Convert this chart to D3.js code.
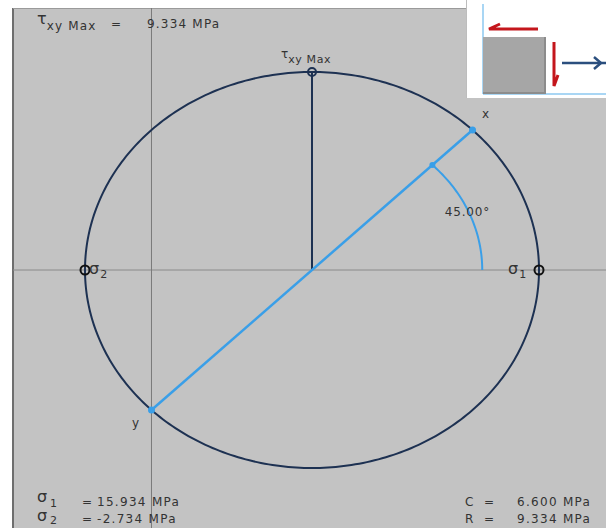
<!DOCTYPE html>
<html>
<head>
<meta charset="utf-8">
<script src="https://cdn.jsdelivr.net/npm/d3@7"></script>
<style>
  html, body { margin: 0; padding: 0; background: #ffffff; }
  svg { display: block; }
  text { font-family: "DejaVu Sans", Verdana, sans-serif; fill: #333333; }
</style>
</head>
<body>
<svg id="chart" width="606" height="531"></svg>
<script>
// Plane stress state (MPa)
const normalStress = [13.2, 0];        // σx, σy
const shearStress = [6.6, -6.6];       // τ on x face, τ on y face
const pointLabels = ["x", "y"];

// Mohr's circle results (MPa)
const principalNames = ["1", "2"];
const principalValues = [15.934, -2.734];
const centerValue = 6.6;
const radiusValue = 9.334;
const tauMaxValue = 9.334;
const rotationDeg = 45;
const arcRadius = 7.0;

const W = 606, H = 531;
const svg = d3.select("#chart");

// Stress axes: σ horizontal, τ vertical
const x = d3.scaleLinear()
  .domain([principalValues[1], principalValues[0]])
  .range([85, 539]);
const y = d3.scaleLinear()
  .domain([tauMaxValue, -tauMaxValue])
  .range([72, 468]);

const panel = { left: 13, top: 8, right: 606, bottom: 528 };

// Grey plotting panel
svg.append("rect")
  .attr("x", panel.left).attr("y", panel.top)
  .attr("width", panel.right - panel.left).attr("height", panel.bottom - panel.top)
  .attr("fill", "#c3c3c3");
svg.append("line")
  .attr("x1", panel.left).attr("x2", panel.left)
  .attr("y1", panel.top).attr("y2", panel.bottom)
  .attr("stroke", "#6e6e6e").attr("stroke-width", 2);
svg.append("line")
  .attr("x1", panel.left).attr("x2", panel.right)
  .attr("y1", panel.top + 0.5).attr("y2", panel.top + 0.5)
  .attr("stroke", "#9a9a9a").attr("stroke-width", 1);

// σ axis (τ = 0) and τ axis (σ = 0)
svg.append("line")
  .attr("x1", panel.left).attr("x2", panel.right)
  .attr("y1", y(0)).attr("y2", y(0))
  .attr("stroke", "#8a8a8a").attr("stroke-width", 1);
svg.append("line")
  .attr("x1", x(0)).attr("x2", x(0))
  .attr("y1", panel.top).attr("y2", panel.bottom)
  .attr("stroke", "#7a7a7a").attr("stroke-width", 1);

// Mohr's circle
const angles = d3.range(0, 361, 1).map(d => d * Math.PI / 180);
svg.append("path")
  .datum(angles)
  .attr("d", d3.line()
    .x(t => x(centerValue + radiusValue * Math.cos(t)))
    .y(t => y(radiusValue * Math.sin(t))))
  .attr("fill", "none")
  .attr("stroke", "#1d3152")
  .attr("stroke-width", 2);

// Radius to maximum shear point
svg.append("line")
  .attr("x1", x(centerValue)).attr("y1", y(0))
  .attr("x2", x(centerValue)).attr("y2", y(tauMaxValue))
  .attr("stroke", "#1d3152").attr("stroke-width", 2);

// Diameter through the x and y stress points
const pts = normalStress.map((s, i) => ({ s, t: shearStress[i], label: pointLabels[i] }));
svg.append("line")
  .attr("x1", x(pts[0].s)).attr("y1", y(pts[0].t))
  .attr("x2", x(pts[1].s)).attr("y2", y(pts[1].t))
  .attr("stroke", "#3a9fe8").attr("stroke-width", 2.5);

// Rotation angle arc
const rot = rotationDeg * Math.PI / 180;
const arcAngles = d3.range(0, 46, 1).map(d => d / 45 * rot);
svg.append("path")
  .datum(arcAngles)
  .attr("d", d3.line()
    .x(t => x(centerValue + arcRadius * Math.cos(t)))
    .y(t => y(arcRadius * Math.sin(t))))
  .attr("fill", "none")
  .attr("stroke", "#3a9fe8").attr("stroke-width", 2);
svg.append("circle")
  .attr("cx", x(centerValue + arcRadius * Math.cos(rot)))
  .attr("cy", y(arcRadius * Math.sin(rot)))
  .attr("r", 3).attr("fill", "#3a9fe8");
svg.append("text")
  .attr("x", x(centerValue + arcRadius * Math.cos(rot)) + 35)
  .attr("y", y(arcRadius * Math.sin(rot)) + 51)
  .attr("text-anchor", "middle")
  .attr("font-size", 12).attr("letter-spacing", 0.8)
  .text(rotationDeg.toFixed(2) + "°");

// Stress point markers and labels
svg.selectAll(".pt").data(pts).join("circle")
  .attr("class", "pt")
  .attr("cx", d => x(d.s)).attr("cy", d => y(d.t))
  .attr("r", 3.5).attr("fill", "#3a9fe8");
svg.selectAll(".ptlab").data(pts).join("text")
  .attr("class", "ptlab")
  .attr("x", d => x(d.s) + (d.t > 0 ? 13 : -16))
  .attr("y", d => y(d.t) + (d.t > 0 ? -12 : 17))
  .attr("text-anchor", "middle")
  .attr("font-size", 12)
  .attr("fill", d => d.t > 0 ? "#3b4a3b" : "#444")
  .text(d => d.label);

// Principal stress markers
principalValues.forEach((v, i) => {
  svg.append("circle")
    .attr("cx", x(v)).attr("cy", y(0))
    .attr("r", 4.5).attr("fill", "none")
    .attr("stroke", "#111").attr("stroke-width", 2);
  const lx = i === 0 ? x(v) - 31 : x(v) + 4;
  const g = svg.append("text").attr("x", lx).attr("y", y(0) + 4);
  g.append("tspan").attr("font-size", 16).text("σ");
  g.append("tspan").attr("font-size", 11).attr("dy", 4).attr("dx", 1).text(principalNames[i]);
});

// Maximum shear marker and label
svg.append("circle")
  .attr("cx", x(centerValue)).attr("cy", y(tauMaxValue))
  .attr("r", 4).attr("fill", "none")
  .attr("stroke", "#1d3152").attr("stroke-width", 2);
{
  const g = svg.append("text").attr("x", x(centerValue) - 31).attr("y", y(tauMaxValue) - 14);
  g.append("tspan").attr("font-size", 12).text("τ");
  g.append("tspan").attr("font-size", 11).attr("dy", 5).attr("letter-spacing", 0.6).text("xy Max");
}

// Summary text: maximum shear
{
  const g = svg.append("text").attr("x", 37).attr("y", 24);
  g.append("tspan").attr("font-size", 16).text("τ");
  g.append("tspan").attr("font-size", 12).attr("dy", 6).attr("letter-spacing", 1.2).text("xy Max");
  svg.append("text").attr("x", 111).attr("y", 28).attr("font-size", 12).text("=");
  svg.append("text").attr("x", 147).attr("y", 28).attr("font-size", 12)
    .attr("letter-spacing", 1.2).text(tauMaxValue.toFixed(3) + " MPa");
}

// Summary text: principal stresses (symbol and subscript as separate labels)
principalValues.forEach((v, i) => {
  const base = 506 + i * 17;
  svg.append("text").attr("x", 37).attr("y", i === 0 ? base - 4 : base - 2)
    .attr("font-size", 16).text("σ");
  svg.append("text").attr("x", 50).attr("y", base + 1)
    .attr("font-size", 11).text(principalNames[i]);
  svg.append("text").attr("x", 82).attr("y", base).attr("font-size", 12).text("=");
  svg.append("text").attr("x", 97).attr("y", base).attr("font-size", 12)
    .attr("letter-spacing", 1.3).text(v.toFixed(3) + " MPa");
});

// Summary text: centre and radius
[["C", centerValue], ["R", radiusValue]].forEach(([name, v], i) => {
  const base = 506 + i * 17;
  svg.append("text").attr("x", 465).attr("y", base).attr("font-size", 12).text(name);
  svg.append("text").attr("x", 484).attr("y", base).attr("font-size", 12).text("=");
  svg.append("text").attr("x", 517).attr("y", base).attr("font-size", 12)
    .attr("letter-spacing", 1.3).text(v.toFixed(3) + " MPa");
});

// Stress element inset
const inset = svg.append("g");
inset.append("rect")
  .attr("x", 466).attr("y", 0).attr("width", W - 466).attr("height", 98)
  .attr("fill", "#ffffff");
inset.append("line")
  .attr("x1", 466.5).attr("x2", 466.5).attr("y1", 0).attr("y2", 98)
  .attr("stroke", "#bdbdbd").attr("stroke-width", 1);
inset.append("line")
  .attr("x1", 483).attr("x2", 483).attr("y1", 4).attr("y2", 94)
  .attr("stroke", "#8cc8f0").attr("stroke-width", 1.5);
inset.append("line")
  .attr("x1", 483).attr("x2", W).attr("y1", 94).attr("y2", 94)
  .attr("stroke", "#8cc8f0").attr("stroke-width", 1.5);
inset.append("rect")
  .attr("x", 483).attr("y", 37).attr("width", 62).attr("height", 56)
  .attr("fill", "#a6a6a6");
inset.append("path")
  .attr("d", "M545,37 L545,93 L483,93")
  .attr("fill", "none").attr("stroke", "#8c8c8c").attr("stroke-width", 2);
// shear on top face (pointing left)
inset.append("path")
  .attr("d", "M538,29 L489,29 L500,24")
  .attr("fill", "none").attr("stroke", "#c4161c").attr("stroke-width", 3)
  .attr("stroke-linejoin", "miter");
// shear on right face (pointing down)
inset.append("path")
  .attr("d", "M554,42 L554,86 L558,75")
  .attr("fill", "none").attr("stroke", "#c4161c").attr("stroke-width", 3);
// normal stress on right face
inset.append("line")
  .attr("x1", 562).attr("x2", W).attr("y1", 63).attr("y2", 63)
  .attr("stroke", "#2b4f7e").attr("stroke-width", 2.5);
inset.append("path")
  .attr("d", "M594,57 L601,63 L594,69")
  .attr("fill", "none").attr("stroke", "#2b4f7e").attr("stroke-width", 2.5);
</script>
</body>
</html>
